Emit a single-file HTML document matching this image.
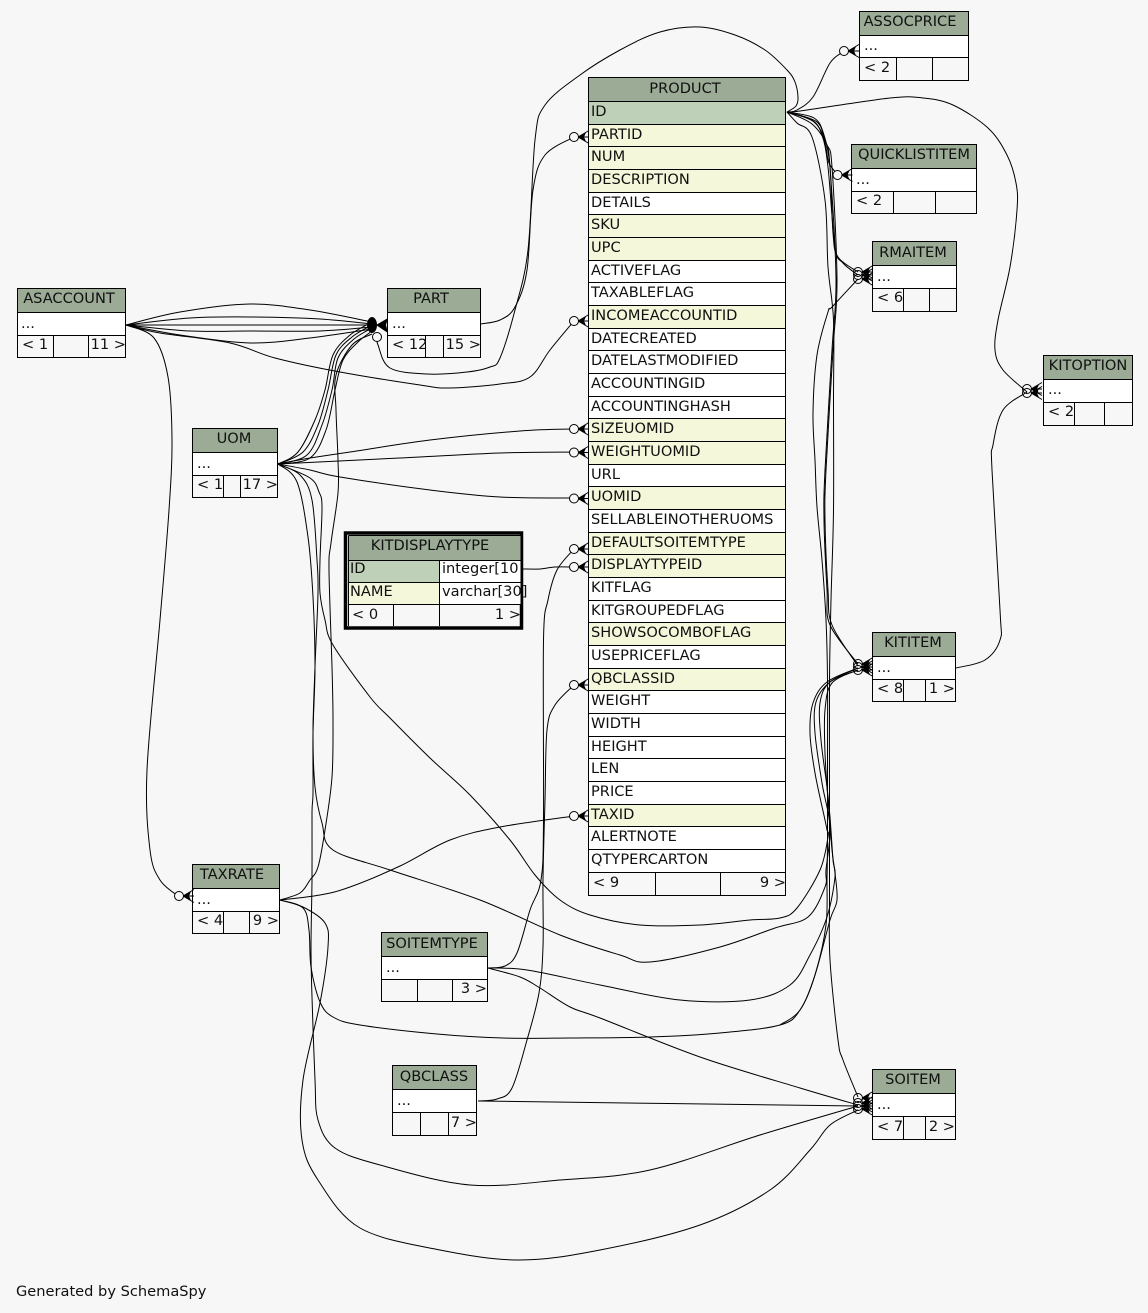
<!DOCTYPE html>
<html><head><meta charset="utf-8"><title>Schema</title>
<style>
html,body{margin:0;padding:0;background:#f7f7f7}
svg{display:block}
text{font-family:"DejaVu Sans",sans-serif;font-size:14.6px;fill:#111}
.e{text-anchor:end}.m{text-anchor:middle}
.w{fill:#fff}.h{fill:#9bab96}.k{fill:#bed1b8}.f{fill:#f4f7da}
.b{fill:none;stroke:#000;stroke-width:1}
polyline,path.s{fill:none;stroke:#000;stroke-width:1;stroke-linejoin:round}
</style></head><body>
<svg xmlns="http://www.w3.org/2000/svg" width="1148" height="1313" viewBox="0 0 1148 1313">
<defs>
<g id="c"><path d="M4,0L15,-6.5M4,0H15M4,0L15,6.5" fill="none" stroke="#000"/><path d="M4,0L12,-4.5L10,0L12,4.5Z" fill="#000"/><circle r="4.5" fill="#f7f7f7" stroke="#000"/></g>
<g id="n"><path d="M4,0L15,-6.5M4,0H15M4,0L15,6.5" fill="none" stroke="#000"/><path d="M4,0L12,-4.5L10,0L12,4.5Z" fill="#000"/><circle r="4.5" fill="none" stroke="#000"/></g>
</defs>
<rect width="1148" height="1313" fill="#f7f7f7"/>

<!-- connectors -->
<g id="edges">
<polyline points="126,325 180,312 250,304 310,310 372,322"/>
<polyline points="126,325 190,318 250,317 320,319 372,324"/>
<polyline points="126,325 372,325"/>
<polyline points="126,325 190,331 250,331 320,331 372,327"/>
<polyline points="126,325 180,335 250,343 310,338 372,329"/>
<polyline points="126,325 160,333 230,343 275,358 340,372 420,385 450,388 500,384 530,377 550,350 574,321"/>
<polyline points="126,325 154,338 168,377 172,440 169,510 160,620 147,770 150,850 160,880 178,896"/>
<polyline points="278,464 298,452 315,420 325,390 333,355 350,335 372,322"/>
<polyline points="278,464 303,452 318,425 328,390 336,355 352,337 372,325"/>
<polyline points="278,464 307,455 322,425 332,390 338,358 354,339 372,328"/>
<polyline points="278,464 310,458 326,430 335,390 343,360 358,342 372,331"/>
<polyline points="280,900 300,893 310,880 318,867 325,830 332,777 333,720 332,667 329,570 331,543 338,493 338,460 336,410 336,375 352,345 372,334"/>
<polyline points="278,464 310,458 350,452 430,440 520,431 574,429"/>
<polyline points="278,464 400,458 500,453 574,452"/>
<polyline points="278,464 310,470 340,477 430,490 500,497 574,498"/>
<polyline points="278,464 297,482 308,537 313,597 315,667 313,733 313,793 312,813 312,880 311,947 312,997 315,1080 318,1120 335,1148 380,1165 470,1185 560,1180 650,1170 760,1135 858,1106"/>
<polyline points="278,464 300,475 312,500 317,560 318,593 315,667 313,733 315,787 322,823 333,850 390,870 480,900 560,935 620,955 650,962 720,947 775,928 808,917 825,887 826,870 830,827 822,783 815,733 816,702 830,682 858,668"/>
<polyline points="278,464 310,478 319,492 322,507 320,560 320,593 325,620 333,645 370,697 390,718 430,758 470,795 510,840 535,875 560,900 590,915 640,925 700,925 750,920 780,918 797,908 820,870 828,837 827,830 825,820 815,773 810,733 813,703 827,682 858,668"/>
<polyline points="280,900 303,908 309,930 311,967 320,1002 333,1017 360,1025 437,1034 503,1038 570,1038 650,1037 720,1033 780,1025 800,1010 815,975 830,920 837,900 835,873 832,850 828,800 825,753 825,710 832,683 858,670"/>
<polyline points="280,900 303,907 325,923 328,947 320,1003 303,1080 302,1140 318,1180 360,1228 440,1250 520,1260 600,1250 700,1225 770,1190 810,1150 830,1125 858,1110"/>
<polyline points="280,900 320,895 350,887 400,866 450,840 500,827 574,816"/>
<polyline points="488,968 527,970 600,985 680,1000 750,1000 790,985 810,955 827,917 835,877 833,860 830,817 827,787 821,740 820,703 830,682 858,670"/>
<polyline points="488,968 520,977 540,988 570,1007 600,1018 700,1057 800,1088 858,1105"/>
<polyline points="488,968 505,966 517,953 530,910 541,880 543.5,820 543.5,640 548,600 557,570 574,549"/>
<polyline points="478,1101 497,1099 512,1088 527,1040 539,993 543,947 543,880 545,800 547,730 555,705 574,685"/>
<polyline points="478,1101 858,1106"/>
<polyline points="523,569 540,569 555,567 574,567"/>
<polyline points="481,324 500,320 515,307 527,270 533,190 545,155 574,137"/>
<polyline points="787,112 796,106 798,97 795,82 787,70 765,50 735,35 700,27 660,32 620,50 580,75 545,105 535,140 528,250 515,310 500,358 490,367 467,372 427,374 390,368 378,345 377,337"/>
<polyline points="787,112 797,110 813,97 830,63 843,52"/>
<polyline points="787,112 800,111 890,98 923,98 953,105 988,128 1007,155 1016,183 1017,210 1010,267 998,320 995,350 1003,370 1027,392"/>
<polyline points="787,112 817,122 825,143 829,163 838,175"/>
<polyline points="787,112 812,120 822,135 828,167 835,247 843,263 858,275"/>
<polyline points="787,112 814,118 824,135 830,167 833,233 838,257 858,272"/>
<polyline points="787,112 814,122 826,143 830,167 836,280 832,350 825,470 824,520 827,590 830,625 858,664"/>
<polyline points="787,112 812,124 827,145 832,167 837,280 833,350 826,470 825,520 828,590 832,625 858,666"/>
<polyline points="787,112 797,123 812,137 825,200 828,267 833.5,320 833.5,400 833.5,510 831,600 829.5,680 829.5,800 829.5,900 830,960 838,1040 843,1060 858,1097"/>
<polyline points="858,279 832,307 828,312 817,355 813,413 815,460 817,507 822,560 826,620 827.5,680 827.5,760 827.5,840 827,880 826,925 815,975 800,1010 780,1025"/>
<polyline points="956,668 985,660 1000,640 1000,610 992,470 993,445 1003,410 1027,392"/>
</g>

<!-- PRODUCT -->
<g>
<rect x="589" y="78" width="196" height="24" class="h"/>
<rect x="589" y="102" width="196" height="22" class="k"/>
<rect x="589" y="124" width="196" height="68" class="f"/>
<rect x="589" y="192" width="196" height="23" class="w"/>
<rect x="589" y="215" width="196" height="45" class="f"/>
<rect x="589" y="260" width="196" height="46" class="w"/>
<rect x="589" y="306" width="196" height="22" class="f"/>
<rect x="589" y="328" width="196" height="91" class="w"/>
<rect x="589" y="419" width="196" height="45" class="f"/>
<rect x="589" y="464" width="196" height="23" class="w"/>
<rect x="589" y="487" width="196" height="23" class="f"/>
<rect x="589" y="510" width="196" height="22" class="w"/>
<rect x="589" y="532" width="196" height="46" class="f"/>
<rect x="589" y="578" width="196" height="45" class="w"/>
<rect x="589" y="623" width="196" height="23" class="f"/>
<rect x="589" y="646" width="196" height="23" class="w"/>
<rect x="589" y="669" width="196" height="22" class="f"/>
<rect x="589" y="691" width="196" height="114" class="w"/>
<rect x="589" y="805" width="196" height="22" class="f"/>
<rect x="589" y="827" width="196" height="46" class="w"/>
<path class="b" d="M588.5,77.5H785.5V895.5H588.5ZM588.5,101.5H785.5M588.5,124.5H785.5M588.5,146.5H785.5M588.5,169.5H785.5M588.5,192.5H785.5M588.5,214.5H785.5M588.5,237.5H785.5M588.5,260.5H785.5M588.5,282.5H785.5M588.5,305.5H785.5M588.5,328.5H785.5M588.5,350.5H785.5M588.5,373.5H785.5M588.5,396.5H785.5M588.5,418.5H785.5M588.5,441.5H785.5M588.5,464.5H785.5M588.5,486.5H785.5M588.5,509.5H785.5M588.5,532.5H785.5M588.5,554.5H785.5M588.5,577.5H785.5M588.5,600.5H785.5M588.5,622.5H785.5M588.5,645.5H785.5M588.5,668.5H785.5M588.5,690.5H785.5M588.5,713.5H785.5M588.5,736.5H785.5M588.5,758.5H785.5M588.5,781.5H785.5M588.5,804.5H785.5M588.5,826.5H785.5M588.5,849.5H785.5M588.5,872.5H785.5M655.5,872.5V895.5M720.5,872.5V895.5"/>
<text class="m" x="685" y="93">PRODUCT</text>
<text x="591" y="116">ID</text>
<text x="591" y="139">PARTID</text>
<text x="591" y="161">NUM</text>
<text x="591" y="184">DESCRIPTION</text>
<text x="591" y="207">DETAILS</text>
<text x="591" y="229">SKU</text>
<text x="591" y="252">UPC</text>
<text x="591" y="275">ACTIVEFLAG</text>
<text x="591" y="297">TAXABLEFLAG</text>
<text x="591" y="320">INCOMEACCOUNTID</text>
<text x="591" y="343">DATECREATED</text>
<text x="591" y="365">DATELASTMODIFIED</text>
<text x="591" y="388">ACCOUNTINGID</text>
<text x="591" y="411">ACCOUNTINGHASH</text>
<text x="591" y="433">SIZEUOMID</text>
<text x="591" y="456">WEIGHTUOMID</text>
<text x="591" y="479">URL</text>
<text x="591" y="501">UOMID</text>
<text x="591" y="524">SELLABLEINOTHERUOMS</text>
<text x="591" y="547">DEFAULTSOITEMTYPE</text>
<text x="591" y="569">DISPLAYTYPEID</text>
<text x="591" y="592">KITFLAG</text>
<text x="591" y="615">KITGROUPEDFLAG</text>
<text x="591" y="637">SHOWSOCOMBOFLAG</text>
<text x="591" y="660">USEPRICEFLAG</text>
<text x="591" y="683">QBCLASSID</text>
<text x="591" y="705">WEIGHT</text>
<text x="591" y="728">WIDTH</text>
<text x="591" y="751">HEIGHT</text>
<text x="591" y="773">LEN</text>
<text x="591" y="796">PRICE</text>
<text x="591" y="819">TAXID</text>
<text x="591" y="841">ALERTNOTE</text>
<text x="591" y="864">QTYPERCARTON</text>
<text x="593" y="887">&lt; 9</text>
<text class="e" x="786" y="887">9 &gt;</text>
</g>

<!-- ASSOCPRICE -->
<rect x="860" y="12" width="108" height="24" class="h"/><rect x="860" y="36" width="108" height="22" class="w"/>
<path class="b" d="M859.5,11.5H968.5V80.5H859.5ZM859.5,35.5H968.5M859.5,57.5H968.5M896.5,57.5V80.5M932.5,57.5V80.5"/>
<text class="m" x="910" y="26">ASSOCPRICE</text><text x="864" y="50">...</text><text x="864" y="72">&lt; 2</text>

<!-- QUICKLISTITEM -->
<rect x="852" y="145" width="124" height="24" class="h"/><rect x="852" y="169" width="124" height="22" class="w"/>
<path class="b" d="M851.5,144.5H976.5V213.5H851.5ZM851.5,168.5H976.5M851.5,191.5H976.5M893.5,191.5V213.5M935.5,191.5V213.5"/>
<text class="m" x="914" y="159">QUICKLISTITEM</text><text x="856" y="184">...</text><text x="856" y="205">&lt; 2</text>

<!-- RMAITEM -->
<rect x="873" y="242" width="83" height="24" class="h"/><rect x="873" y="266" width="83" height="23" class="w"/>
<path class="b" d="M872.5,241.5H956.5V311.5H872.5ZM872.5,265.5H956.5M872.5,288.5H956.5M903.5,288.5V311.5M929.5,288.5V311.5"/>
<text class="m" x="913" y="257">RMAITEM</text><text x="877" y="281">...</text><text x="877" y="302">&lt; 6</text>

<!-- KITOPTION -->
<rect x="1044" y="356" width="88" height="24" class="h"/><rect x="1044" y="380" width="88" height="22" class="w"/>
<path class="b" d="M1043.5,355.5H1132.5V425.5H1043.5ZM1043.5,379.5H1132.5M1043.5,402.5H1132.5M1074.5,402.5V425.5M1104.5,402.5V425.5"/>
<text class="m" x="1088" y="370">KITOPTION</text><text x="1048" y="394">...</text><text x="1048" y="416">&lt; 2</text>

<!-- KITITEM -->
<rect x="873" y="633" width="82" height="24" class="h"/><rect x="873" y="657" width="82" height="22" class="w"/>
<path class="b" d="M872.5,632.5H955.5V701.5H872.5ZM872.5,656.5H955.5M872.5,679.5H955.5M903.5,679.5V701.5M925.5,679.5V701.5"/>
<text class="m" x="913" y="647">KITITEM</text><text x="877" y="672">...</text><text x="877" y="693">&lt; 8</text><text class="e" x="955" y="693">1 &gt;</text>

<!-- SOITEM -->
<rect x="873" y="1070" width="82" height="24" class="h"/><rect x="873" y="1094" width="82" height="22" class="w"/>
<path class="b" d="M872.5,1069.5H955.5V1139.5H872.5ZM872.5,1093.5H955.5M872.5,1116.5H955.5M903.5,1116.5V1139.5M925.5,1116.5V1139.5"/>
<text class="m" x="913" y="1084">SOITEM</text><text x="877" y="1109">...</text><text x="877" y="1131">&lt; 7</text><text class="e" x="955" y="1131">2 &gt;</text>

<!-- PART -->
<rect x="388" y="289" width="92" height="24" class="h"/><rect x="388" y="313" width="92" height="22" class="w"/>
<path class="b" d="M387.5,288.5H480.5V357.5H387.5ZM387.5,312.5H480.5M387.5,335.5H480.5M425.5,335.5V357.5M443.5,335.5V357.5"/>
<text class="m" x="431" y="303">PART</text><text x="392" y="328">...</text><text x="392" y="349">&lt; 12</text><text class="e" x="481" y="349">15 &gt;</text>

<!-- ASACCOUNT -->
<rect x="18" y="289" width="107" height="24" class="h"/><rect x="18" y="313" width="107" height="22" class="w"/>
<path class="b" d="M17.5,288.5H125.5V357.5H17.5ZM17.5,312.5H125.5M17.5,335.5H125.5M53.5,335.5V357.5M88.5,335.5V357.5"/>
<text class="m" x="69" y="303">ASACCOUNT</text><text x="21" y="328">...</text><text x="22" y="349">&lt; 1</text><text class="e" x="126" y="349">11 &gt;</text>

<!-- UOM -->
<rect x="193" y="429" width="84" height="24" class="h"/><rect x="193" y="453" width="84" height="22" class="w"/>
<path class="b" d="M192.5,428.5H277.5V497.5H192.5ZM192.5,452.5H277.5M192.5,475.5H277.5M223.5,475.5V497.5M240.5,475.5V497.5"/>
<text class="m" x="234" y="443">UOM</text><text x="197" y="468">...</text><text x="197" y="489">&lt; 1</text><text class="e" x="278" y="489">17 &gt;</text>

<!-- TAXRATE -->
<rect x="193" y="865" width="86" height="24" class="h"/><rect x="193" y="889" width="86" height="22" class="w"/>
<path class="b" d="M192.5,864.5H279.5V933.5H192.5ZM192.5,888.5H279.5M192.5,911.5H279.5M223.5,911.5V933.5M249.5,911.5V933.5"/>
<text class="m" x="232" y="879">TAXRATE</text><text x="197" y="904">...</text><text x="197" y="925">&lt; 4</text><text class="e" x="279" y="925">9 &gt;</text>

<!-- SOITEMTYPE -->
<rect x="382" y="933" width="105" height="24" class="h"/><rect x="382" y="957" width="105" height="22" class="w"/>
<path class="b" d="M381.5,932.5H487.5V1001.5H381.5ZM381.5,956.5H487.5M381.5,979.5H487.5M417.5,979.5V1001.5M452.5,979.5V1001.5"/>
<text class="m" x="432" y="948">SOITEMTYPE</text><text x="386" y="972">...</text><text class="e" x="487" y="993">3 &gt;</text>

<!-- QBCLASS -->
<rect x="393" y="1066" width="83" height="24" class="h"/><rect x="393" y="1090" width="83" height="22" class="w"/>
<path class="b" d="M392.5,1065.5H476.5V1135.5H392.5ZM392.5,1089.5H476.5M392.5,1112.5H476.5M420.5,1112.5V1135.5M448.5,1112.5V1135.5"/>
<text class="m" x="434" y="1081">QBCLASS</text><text x="397" y="1105">...</text><text class="e" x="477" y="1127">7 &gt;</text>

<!-- KITDISPLAYTYPE -->
<rect x="345.5" y="533" width="176" height="95" fill="#f7f7f7" stroke="#000" stroke-width="3.5"/>
<rect x="348" y="536" width="172.5" height="24" class="h"/>
<rect x="348" y="560" width="91" height="22" class="k"/>
<rect x="439" y="560" width="81.5" height="22" class="w"/>
<rect x="348" y="582" width="91" height="23" class="f"/>
<rect x="439" y="582" width="81.5" height="23" class="w"/>
<path class="b" d="M348.5,535.5H520.5M348.5,535.5V626M348.5,560.5H520.5M348.5,582.5H520.5M348.5,604.5H520.5M439.5,560.5V626M393.5,604.5V626"/>
<text class="m" x="430" y="550">KITDISPLAYTYPE</text>
<text x="350" y="573">ID</text><text x="442" y="573">integer[10</text>
<text x="350" y="596">NAME</text><text x="442" y="596">varchar[30]</text>
<text x="352" y="619">&lt; 0</text><text class="e" x="521" y="619">1 &gt;</text>

<text x="16" y="1296">Generated by SchemaSpy</text>

<!-- crow's feet -->
<use href="#c" x="844" y="51"/>
<use href="#c" x="837.5" y="175"/>
<use href="#c" x="574" y="137"/>
<use href="#c" x="574" y="321"/>
<use href="#c" x="574" y="429"/>
<use href="#c" x="574" y="452.5"/>
<use href="#c" x="574" y="498.5"/>
<use href="#c" x="574" y="549"/>
<use href="#c" x="574" y="567"/>
<use href="#c" x="574" y="685"/>
<use href="#c" x="574" y="816"/>
<use href="#c" x="179" y="896"/>
<use href="#n" x="858" y="272"/>
<use href="#n" x="858" y="275"/>
<use href="#n" x="858" y="279"/>
<use href="#n" x="858" y="664"/>
<use href="#n" x="858" y="667"/>
<use href="#n" x="858" y="670"/>
<use href="#n" x="858" y="1098"/>
<use href="#n" x="858" y="1103"/>
<use href="#n" x="858" y="1106"/>
<use href="#n" x="858" y="1109"/>
<use href="#n" x="1027" y="389"/>
<use href="#n" x="1027" y="393"/>
<ellipse cx="372" cy="325" rx="5" ry="8" fill="#000"/>
<path d="M376,325L388,318L386,325L388,333Z" fill="#000"/>
<circle cx="377" cy="337" r="4.5" fill="#f7f7f7" stroke="#000"/>
</svg>
<script>
(function(){
var g=document.getElementById('edges');
var list=Array.prototype.slice.call(g.querySelectorAll('polyline'));
var f=function(n){return n.toFixed(1)};
list.forEach(function(pl){
var p=pl.getAttribute('points').trim().split(/\s+/).map(function(s){return s.split(',').map(Number)});
var d='M'+p[0][0]+','+p[0][1];
for(var i=0;i!==p.length-1;i++){
var a=p[i-1]||p[i],b=p[i],c=p[i+1],e=p[i+2]||c;
d+='C'+f(b[0]+(c[0]-a[0])/6)+','+f(b[1]+(c[1]-a[1])/6)+' '+f(c[0]-(e[0]-b[0])/6)+','+f(c[1]-(e[1]-b[1])/6)+' '+c[0]+','+c[1];
}
var s=document.createElementNS('http://www.w3.org/2000/svg','path');
s.setAttribute('d',d);s.setAttribute('class','s');
g.replaceChild(s,pl);
});
})();
</script>
</body></html>
